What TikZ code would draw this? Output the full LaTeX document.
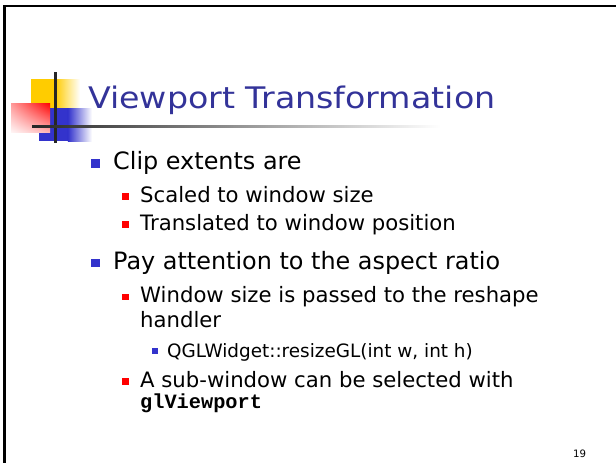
\documentclass[tikz,border=0pt]{standalone}
\usepackage{fontspec}
\setmainfont{DejaVu Sans}
\newfontfamily\titlefont{DejaVu Sans}[FakeStretch=1.12]
\newfontfamily\codefont{Liberation Mono}
\usetikzlibrary{shadings}
\definecolor{titleblue}{RGB}{51,51,153}
\definecolor{dotblue}{RGB}{51,51,204}
\definecolor{logoyellow}{RGB}{255,204,0}
\begin{document}
\begin{tikzpicture}[x=1pt,y=-1pt,
  lvlone/.style={anchor=base west,inner sep=0pt,font=\fontsize{23.9}{28}\selectfont},
  lvltwo/.style={anchor=base west,inner sep=0pt,font=\fontsize{21.2}{25}\selectfont},
  lvlthree/.style={anchor=base west,inner sep=0pt,font=\fontsize{18.4}{22}\selectfont},
  dotone/.style={rectangle,inner sep=0pt,minimum size=8.5pt,fill=dotblue},
  dottwo/.style={rectangle,inner sep=0pt,minimum size=6.5pt,fill=red},
  dotthree/.style={rectangle,inner sep=0pt,minimum size=5.5pt,fill=dotblue}]
\useasboundingbox (0,0) rectangle (616,463);
% slide frame
\draw[line width=2.4pt] (4.3,463) -- (4.3,6) -- (616,6);
% logo
\fill[logoyellow] (31,79) rectangle (55,108);
\shade[left color=logoyellow,right color=white] (54.9,79) rectangle (80,108);
\fill[dotblue] (39,108) rectangle (68,141);
\shade[left color=dotblue,right color=white] (67.9,108) rectangle (92,141);
\shade[upper right=red,upper left=red!40!white,lower left=red!4!white,lower right=red!30!white] (11,103) rectangle (50,132);
\draw[line width=2.4pt,black!85] (55.5,72) -- (55.5,143);
\shade[left color=black!85,right color=white] (32,125.1) rectangle (440,127.5);
% title
\node[anchor=base west,inner sep=0pt,text=titleblue,font=\titlefont\fontsize{29.7}{34}\selectfont] (title) at (88,108.3) {Viewport Transformation};
% first item
\node[dotone] (clipdot) at (95.5,163.5) {};
\node[lvlone] (clip) at (113,169) {Clip extents are};
\node[dottwo] (scaleddot) at (125.5,196.5) {};
\node[lvltwo] (scaled) at (140,202) {Scaled to window size};
\node[dottwo] (transdot) at (125.5,224.5) {};
\node[lvltwo] (trans) at (140,230) {Translated to window position};
% second item
\node[dotone] (paydot) at (95.5,263) {};
\node[lvlone] (pay) at (113,269) {Pay attention to the aspect ratio};
\node[dottwo] (windot) at (125.5,297) {};
\node[lvltwo] (win) at (140,302) {Window size is passed to the reshape};
\node[lvltwo] (handler) at (140,327) {handler};
\node[dotthree] (resizedot) at (155,351) {};
\node[lvlthree] (resize) at (167,357) {QGLWidget::resizeGL(int w, int h)};
\node[dottwo] (subdot) at (125.5,381.5) {};
\node[lvltwo] (sub) at (140,387) {A sub-window can be selected with};
\node[anchor=base west,inner sep=0pt,font=\codefont\bfseries\fontsize{20.3}{24}\selectfont] (glvp) at (140,408) {glViewport};
% slide number
\node[anchor=base west,inner sep=0pt,font=\fontsize{10.2}{12}\selectfont] (num) at (573,457) {19};
\end{tikzpicture}
\end{document}
